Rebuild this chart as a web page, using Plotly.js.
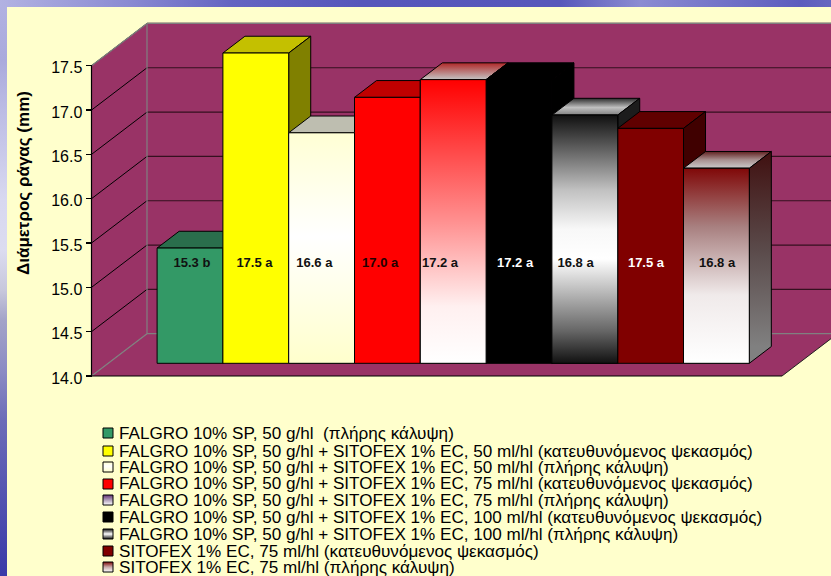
<!DOCTYPE html>
<html>
<head>
<meta charset="utf-8">
<script src="https://cdn.plot.ly/plotly-3.0.1.min.js"></script>
<style>
html,body{margin:0;padding:0;width:831px;height:576px;overflow:hidden;}
body{position:relative;background:
 linear-gradient(to right,#b2b2e2 0,#8a8ad2 130px,#6464c2 230px,#5656bb 360px,#5757bb 560px,#7272c6 600px,#8b8bd2 640px,#5c5cbe 800px,#6666c0 831px) 0 0/831px 7px no-repeat,
 linear-gradient(to bottom,#b2b2e2 0,#aaaadc 60px,#bcbce4 110px,#d8d8f0 200px,#dcdcf0 250px,#c8c8dc 290px,#a4a4c8 320px,#8c8cc4 370px,#6c6cb8 420px,#5252b0 500px,#3a3aa8 576px) 0 0/7px 576px no-repeat,
 #FFFFCC;}
#chart{position:absolute;left:7px;top:7px;width:824px;height:569px;}
</style>
</head>
<body>
<div id="chart"></div>
<script>
// ---------- data ----------
const categories = [
 "FALGRO 10% SP, 50 g/hl  (πλήρης κάλυψη)",
 "FALGRO 10% SP, 50 g/hl + SITOFEX 1% EC, 50 ml/hl (κατευθυνόμενος ψεκασμός)",
 "FALGRO 10% SP, 50 g/hl + SITOFEX 1% EC, 50 ml/hl (πλήρης κάλυψη)",
 "FALGRO 10% SP, 50 g/hl + SITOFEX 1% EC, 75 ml/hl (κατευθυνόμενος ψεκασμός)",
 "FALGRO 10% SP, 50 g/hl + SITOFEX 1% EC, 75 ml/hl (πλήρης κάλυψη)",
 "FALGRO 10% SP, 50 g/hl + SITOFEX 1% EC, 100 ml/hl (κατευθυνόμενος ψεκασμός)",
 "FALGRO 10% SP, 50 g/hl + SITOFEX 1% EC, 100 ml/hl (πλήρης κάλυψη)",
 "SITOFEX 1% EC, 75 ml/hl (κατευθυνόμενος ψεκασμός)",
 "SITOFEX 1% EC, 75 ml/hl (πλήρης κάλυψη)"
];
const values = [15.3, 17.5, 16.6, 17.0, 17.2, 17.2, 16.8, 16.65, 16.2];
const valueLabels = ["15.3 b","17.5 a","16.6 a","17.0 a","17.2 a","17.2 a","16.8 a","17.5 a","16.8 a"];
const labelColors = ["#111","#111","#111","#200","#111","#fff","#111","#fff","#111"];
const labelShift = [0.03,-0.02,-0.11,-0.11,-0.2,-0.06,-0.14,-0.07,0.01];
const tickValues = [14,14.5,15,15.5,16,16.5,17,17.5];
const frontColors = ["#339966","#FFFF00","#FFFFCC","#FF0000","#FF9999","#000000","#999999","#800000","#BBBBBB"];
const topColors = ["#2A6E4C","#C4C000","#BEBEB0","#C00000",null,"#000000",null,"#600000",null];
const sideColors = ["#1F5A3E","#808000","#80806A","#800000","#800000","#000000","#1C1C1C","#400000",null];
const frontGradients = [null,null,
 [[0,"#FFFFD4"],[0.45,"#FFFFFF"],[1,"#FFFFCC"]],
 null,
 [[0,"#FF0000"],[0.5,"#FF9090"],[0.8,"#FFF0F0"],[1,"#FFFFFF"]],
 null,
 [[0,"#101010"],[0.3,"#C0C0C0"],[0.46,"#F8F8F8"],[0.58,"#FFFFFF"],[0.7,"#C0C0C0"],[0.87,"#666666"],[1,"#111111"]],
 null,
 [[0,"#800808"],[0.3,"#A88080"],[0.65,"#F0EAEA"],[1,"#FFFFFF"]]];
const topGradients = [null,null,null,null,
 [[0,"#B02828"],[1,"#C4C4C4"]],null,
 [[0,"#2C2C2C"],[0.55,"#C0C0C0"],[1,"#808080"]],null,
 [[0,"#602020"],[0.5,"#A89090"],[1,"#CCCCCC"]]];
const sideGradients = [null,null,null,null,null,null,null,null,
 [[0,"#401010"],[0.5,"#5A4A4A"],[1,"#808080"]]];
const swatchGradients = [null,null,
 [[0,"#FFFFCC"],[0.4,"#FFFFFF"],[1,"#FFFFCC"]],
 null,
 [[0,"#663377"],[0.55,"#B8A8C0"],[1,"#FFFFFF"]],
 null,
 [[0,"#111111"],[0.5,"#FFFFFF"],[1,"#111111"]],
 null,
 [[0,"#800808"],[0.5,"#C8A8A8"],[1,"#FFFFFF"]]];

// ---------- geometry ----------
const W = 824, H = 569, OX = 7, OY = 7;
const unitX = 65.8, unitV = 88.65;
const px0 = 190, py14 = 376, barPlanePy = 363.3;
const wallDx = 55.5/unitX, wallDv = 42.3/unitV;      // full depth of the chart box
const planeD = 0.30, barD = 0.397;                   // bar plane position and bar depth, share of box depth
const xRange = [(OX-px0)/unitX, (831-px0)/unitX];
const yRange = [14-(576-py14)/unitV, 14+(py14-OY)/unitV];
const y2Range = [14-(576-barPlanePy)/unitV, 14+(barPlanePy-OY)/unitV];
const X = px => (px-px0)/unitX, V = py => 14+(py14-py)/unitV;
const planeLeft = X(91.5), planeRight = X(782);
const wx = (u,d) => u + d*wallDx, wv = (v,d) => v + d*wallDv;
const bx = (u,d) => u + (d)*wallDx, bv = (v,d) => v + (planeD+d)*wallDv;

const traces = [];
function poly(xs, ys, fill, opts){
  const o = opts||{};
  const t = {type:'scatter', mode:'lines', x:xs.concat(xs[0]), y:ys.concat(ys[0]), fill:'toself',
    line:{color:o.line||'#000', width:o.lw===undefined?1:o.lw}, hoverinfo:'skip', showlegend:false,
    fillcolor: fill||'rgba(0,0,0,0)'};
  if(o.grad){ t.fillgradient = {type:'vertical', colorscale:o.grad, start:o.start, stop:o.stop}; }
  if(o.yaxis) t.yaxis=o.yaxis;
  traces.push(t);
}
function segs(pairs, color, width){
  const x=[], y=[];
  pairs.forEach(p=>{x.push(p[0],p[2],null); y.push(p[1],p[3],null);});
  traces.push({type:'scatter',mode:'lines',x,y,line:{color,width},hoverinfo:'skip',showlegend:false});
}
const WALL = "#993366";
const yMax = 17.5;
// floor, side wall, back wall
poly([planeLeft,planeRight,wx(planeRight,1),wx(planeLeft,1)],[14,14,wv(14,1),wv(14,1)],WALL,{lw:0});
poly([planeLeft,wx(planeLeft,1),wx(planeLeft,1),planeLeft],[14,wv(14,1),wv(yMax,1),yMax],WALL,{lw:0});
poly([wx(planeLeft,1),wx(planeRight,1),wx(planeRight,1),wx(planeLeft,1)],[wv(14,1),wv(14,1),wv(yMax,1),wv(yMax,1)],WALL,{lw:0});
// gridlines
const inner = tickValues.filter(v=>v>14);
segs(inner.map(v=>[wx(planeLeft,1),wv(v,1),wx(planeRight,1),wv(v,1)]),"#35101F",1.2);
segs(inner.map(v=>[planeLeft,v,wx(planeLeft,1),wv(v,1)]),"#000",1);
// box outline in grey
segs([[planeLeft,14,wx(planeLeft,1),wv(14,1)],
      [wx(planeLeft,1),wv(14,1),wx(planeRight,1),wv(14,1)],
      [wx(planeLeft,1),wv(14,1),wx(planeLeft,1),wv(yMax,1)],
      [wx(planeLeft,1),wv(yMax,1),wx(planeRight,1),wv(yMax,1)],
      [planeLeft,yMax,wx(planeLeft,1),wv(yMax,1)]],"#808080",1.2);
// axis lines
segs([[planeLeft,14,planeLeft,yMax],[planeLeft,14,planeRight,14]],"#000",1.2);
segs([[planeRight,14,wx(planeRight,1),wv(14,1)]],"#222",1);

// depth faces of the bars, left to right
const bW = 0.5;
values.forEach((v,i)=>{
  const l=i-bW, r=i+bW, dd=barD;
  const yTopF=bv(v,0), yTopB=bv(v,dd), yBotF=bv(14,0), yBotB=bv(14,dd);
  poly([bx(l,0), bx(r,0), bx(r,dd), bx(l,dd)], [yTopF,yTopF,yTopB,yTopB], topColors[i]||'#888',
       topGradients[i]?{grad:topGradients[i],start:yTopB,stop:yTopF}:{});
  poly([bx(r,0), bx(r,dd), bx(r,dd), bx(r,0)], [yBotF,yBotB,yTopB,yTopF], sideColors[i]||'#888',
       sideGradients[i]?{grad:sideGradients[i],start:yTopB,stop:yBotB}:{});
});

// front faces: real bars on the overlaid axis
traces.push({type:'bar', x:categories.map((c,i)=>i), y:values.map(v=>v-14), base:14, width:1, yaxis:'y2',
  marker:{color:frontColors, line:{color:'#000',width:1}}, hoverinfo:'skip', showlegend:false});
values.forEach((v,i)=>{
  if(frontGradients[i]) poly([i-bW,i+bW,i+bW,i-bW],[14,14,v,v],frontColors[i],
     {grad:frontGradients[i],start:v,stop:14,yaxis:'y2'});
});
// value labels
const labelV = 14+(barPlanePy-263.5)/unitV;
traces.push({type:'scatter',mode:'text',yaxis:'y2',x:labelShift.map((s,i)=>i+s),y:values.map(()=>labelV),
  text:valueLabels,textposition:'middle center',
  textfont:{family:'"Liberation Sans",Arial,sans-serif',size:13,color:labelColors,weight:700},hoverinfo:'skip',showlegend:false});

// legend swatches
const legendPy = [433,451,467,484,500,517,534,551,567];
categories.forEach((c,i)=>{
  const t=V(legendPy[i]-5), b=V(legendPy[i]+5), a=X(103), e=X(113);
  poly([a,e,e,a],[b,b,t,t],frontColors[i],swatchGradients[i]?{grad:swatchGradients[i],start:t,stop:b}:{});
});

const annotations = categories.map((c,i)=>({
  text:c, xref:'paper', yref:'paper', x:(118-OX)/W, y:1-(legendPy[i]-OY)/H, xanchor:'left', yanchor:'middle',
  showarrow:false, align:'left', font:{family:'"Liberation Sans",Arial,sans-serif',size:17.1,color:'#000'}, borderpad:0
}));
annotations.push({text:'<b>Διάμετρος ράγας (mm)</b>', xref:'paper', yref:'paper', x:(23-OX)/W, y:1-(183-OY)/H,
  textangle:-90, showarrow:false, xanchor:'center', yanchor:'middle',
  font:{family:'"Liberation Sans",Arial,sans-serif',size:17,color:'#000'}});

const layout = {
  width:W, height:H, margin:{l:0,r:0,t:0,b:0}, paper_bgcolor:'#FFFFCC', plot_bgcolor:'rgba(0,0,0,0)',
  showlegend:false, hovermode:false, barmode:'overlay', bargap:0,
  xaxis:{range:xRange, visible:false, fixedrange:true},
  yaxis:{range:yRange, anchor:'free', position:(91.5-OX)/W, side:'left', showgrid:false, zeroline:false, showline:false,
    tickmode:'array', tickvals:tickValues, ticktext:tickValues.map(v=>v.toFixed(1)), ticks:'outside', ticklen:6, tickwidth:1.2, tickcolor:'#000',
    ticklabelshift:2,
    tickfont:{family:'"Liberation Sans",Arial,sans-serif',size:16,color:'#000'}, fixedrange:true},
  yaxis2:{range:y2Range, overlaying:'y', visible:false, fixedrange:true},
  annotations
};
Plotly.newPlot('chart', traces, layout, {displayModeBar:false, staticPlot:true});
</script>
</body>
</html>
